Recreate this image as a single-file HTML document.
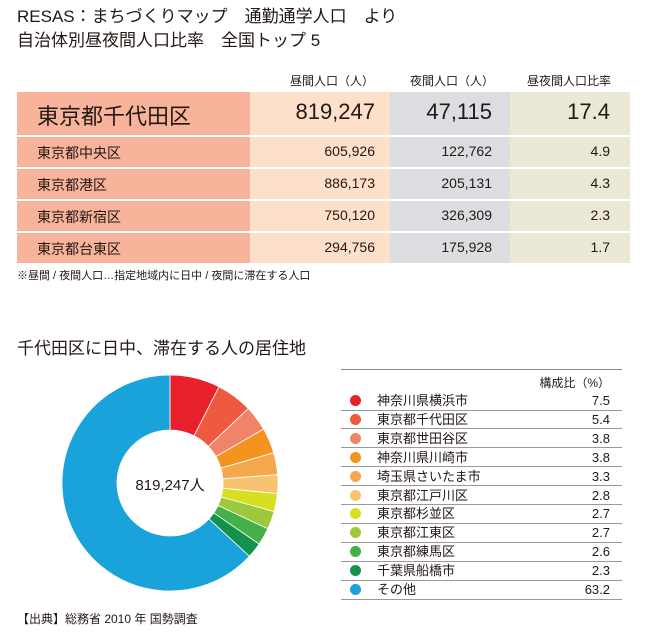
<!DOCTYPE html>
<html><head><meta charset="utf-8"><style>
body{margin:0;width:650px;height:635px;background:#fff;font-family:"Liberation Sans","Noto Sans CJK JP",sans-serif;color:#231815;position:relative;overflow:hidden}
.a{position:absolute;white-space:nowrap}
.c{position:absolute}
</style></head><body>
<div class="a" style="left:17px;top:6px;font-size:17px;line-height:22px">RESAS：まちづくりマップ　通勤通学人口　より</div>
<div class="a" style="left:17px;top:30px;font-size:17px;line-height:22px">自治体別昼夜間人口比率　全国トップ 5</div>
<div class="a" style="left:290px;top:72px;font-size:12px">昼間人口（人）</div>
<div class="a" style="left:410px;top:72px;font-size:12px">夜間人口（人）</div>
<div class="a" style="left:527px;top:72px;font-size:12px">昼夜間人口比率</div>

<div class="c" style="left:17px;top:92px;width:233px;height:43px;background:#f8b39b"></div>
<div class="c" style="left:250px;top:92px;width:140px;height:43px;background:#fde0c9"></div>
<div class="c" style="left:390px;top:92px;width:120px;height:43px;background:#dcdde0"></div>
<div class="c" style="left:510px;top:92px;width:120px;height:43px;background:#ebe8d6"></div>
<div class="a" style="left:37px;top:99px;font-size:22px">東京都千代田区</div>
<div class="a" style="right:275px;top:99px;font-size:22px">819,247</div>
<div class="a" style="right:158px;top:99px;font-size:22px">47,115</div>
<div class="a" style="right:40px;top:99px;font-size:22px">17.4</div>

<div id="rows"></div>
<div class="a" style="left:17px;top:267px;font-size:11px">※昼間 / 夜間人口…指定地域内に日中 / 夜間に滞在する人口</div>

<div class="a" style="left:17px;top:334px;font-size:17px">千代田区に日中、滞在する人の居住地</div>

<svg class="c" style="left:0;top:360px" width="300" height="250" viewBox="0 360 300 250" id="pie"></svg>
<div class="a" style="left:170px;top:474px;font-size:15px;transform:translateX(-50%)">819,247人</div>

<div class="c" style="left:341px;top:369px;width:281px;height:1px;background:#888"></div>
<div class="a" style="right:40px;top:374px;font-size:12px">構成比（%）</div>
<div id="leg"></div>

<div class="a" style="left:17px;top:610px;font-size:12px">【出典】総務省 2010 年 国勢調査</div>
<script>
var R=[["東京都中央区","605,926","122,762","4.9",137],["東京都港区","886,173","205,131","4.3",169],["東京都新宿区","750,120","326,309","2.3",201],["東京都台東区","294,756","175,928","1.7",233]];
var h="";R.forEach(function(r){var t=r[4];
h+='<div class="c" style="left:17px;top:'+t+'px;width:233px;height:30px;background:#f8b39b"></div><div class="c" style="left:250px;top:'+t+'px;width:140px;height:30px;background:#fde0c9"></div><div class="c" style="left:390px;top:'+t+'px;width:120px;height:30px;background:#dcdde0"></div><div class="c" style="left:510px;top:'+t+'px;width:120px;height:30px;background:#ebe8d6"></div>';
h+='<div class="a" style="left:37px;top:'+(t+6)+'px;font-size:14px">'+r[0]+'</div><div class="a" style="right:275px;top:'+(t+6)+'px;font-size:14px">'+r[1]+'</div><div class="a" style="right:158px;top:'+(t+6)+'px;font-size:14px">'+r[2]+'</div><div class="a" style="right:40px;top:'+(t+6)+'px;font-size:14px">'+r[3]+'</div>';});
document.getElementById("rows").outerHTML=h;
var L=[["神奈川県横浜市",7.5,"#e8202a"],["東京都千代田区",5.4,"#ee5a40"],["東京都世田谷区",3.8,"#f08468"],["神奈川県川崎市",3.8,"#f39320"],["埼玉県さいたま市",3.3,"#f6a84f"],["東京都江戸川区",2.8,"#f9c26f"],["東京都杉並区",2.7,"#d6e021"],["東京都江東区",2.7,"#9cc83c"],["東京都練馬区",2.6,"#45b04a"],["千葉県船橋市",2.3,"#12924a"],["その他",63.2,"#1aa2db"]];
var g="",p="",a=0,cx=170,cy=483,ro=108,ri=53;
L.forEach(function(l,i){var t=391+i*18.9;
g+='<div class="c" style="left:350px;top:'+(t+4)+'px;width:11px;height:11px;border-radius:50%;background:'+l[2]+'"></div><div class="a" style="left:377px;top:'+(t+1)+'px;font-size:13px;line-height:17px">'+l[0]+'</div><div class="a" style="right:40px;top:'+(t+1)+'px;font-size:13px;line-height:17px">'+l[1]+'</div><div class="c" style="left:341px;top:'+(t+18.5)+'px;width:281px;height:1px;background:#999"></div>';
var s=a,e=a+l[1]/100.1*2*Math.PI;a=e;
function P(r,t){return (cx+r*Math.sin(t)).toFixed(2)+","+(cy-r*Math.cos(t)).toFixed(2)}
var lg=(e-s)>Math.PI?1:0;
p+='<path fill="'+l[2]+'" stroke="#fff" stroke-width="0.8" d="M'+P(ro,s)+'A'+ro+','+ro+' 0 '+lg+' 1 '+P(ro,e)+'L'+P(ri,e)+'A'+ri+','+ri+' 0 '+lg+' 0 '+P(ri,s)+'Z"/>';});
document.getElementById("leg").outerHTML=g;document.getElementById("pie").innerHTML=p;
</script>
</body></html>
